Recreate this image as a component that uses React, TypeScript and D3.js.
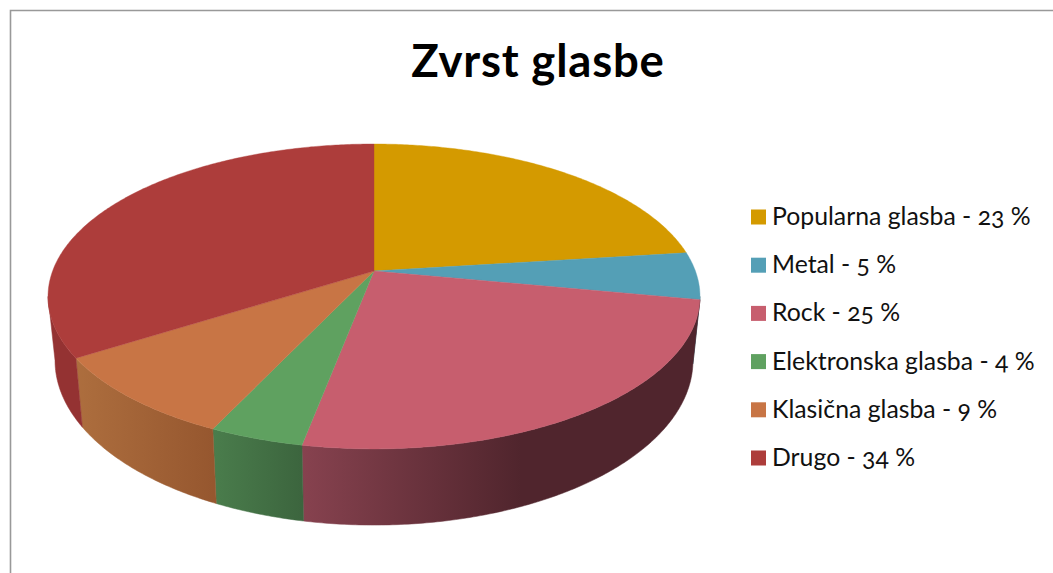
import React from "react";
import * as d3 from "d3";

const categories = ["Popularna glasba", "Metal", "Rock", "Elektronska glasba", "Klasična glasba", "Drugo"];
const shares = [23, 5, 25, 4, 9, 34];
const topColors = ["#d49a00", "#549fb6", "#c75e6e", "#5fa160", "#c87545", "#ad3d3b"];
// left and right colour of the side wall of each slice
const sideLeft = ["#7a5a00", "#33616f", "#87424f", "#4a7d4c", "#ad6e3e", "#943232"];
const sideRight = ["#7a5a00", "#33616f", "#50252d", "#3c653e", "#96572f", "#943232"];
// how far along the wall the right colour is reached
const sideTurn = [1, 1, 0.55, 1, 1, 1];
const title = "Zvrst glasbe";

const WIDTH = 1053;
const HEIGHT = 573;

// perspective of the tilted disc
const cx = 374;
const persp = 0.167;
const topDisc = { y0: 271, a: 321.4, b: 148.2 };
const bottomDisc = { y0: 333, a: 314.5, b: 160 };
// the walls are only seen between these two angles (where the disc outline turns)
const wallStart = Math.PI - Math.acos(persp);
const wallEnd = Math.PI + Math.acos(persp);

const project = (disc: typeof topDisc, angle: number): [number, number] => {
  const u = Math.sin(angle);
  const v = -Math.cos(angle);
  const w = 1 - persp * v;
  return [cx + (disc.a * u) / w, disc.y0 + (disc.b * v) / w];
};

const arcSteps = (start: number, end: number) => {
  const n = Math.max(2, Math.ceil((end - start) / 0.01));
  return d3.range(n + 1).map((i) => start + ((end - start) * i) / n);
};

const line = d3.line().curve(d3.curveLinear);

export default function App() {
  const slices = d3.pie<number>().sort(null)(shares);
  const legendY = d3.scalePoint<string>().domain(categories).range([217, 458]);

  return (
    <svg
      width={WIDTH}
      height={HEIGHT}
      style={{ position: "absolute", left: 0, top: 0, background: "#fff" }}
      fontFamily="Lato, 'Open Sans', sans-serif"
    >
      <defs>
        {slices.map((s, i) => {
          const x0 = project(topDisc, s.startAngle)[0];
          const x1 = project(topDisc, s.endAngle)[0];
          return (
            <linearGradient
              key={i}
              id={"side" + i}
              gradientUnits="userSpaceOnUse"
              x1={Math.min(x0, x1)}
              x2={Math.max(x0, x1)}
              y1={0}
              y2={0}
            >
              <stop offset="0" stopColor={sideLeft[i]} />
              <stop offset={sideTurn[i]} stopColor={sideRight[i]} />
            </linearGradient>
          );
        })}
      </defs>

      <path d="M10.5,573V10.5H1053" fill="none" stroke="#999" strokeWidth={1.6} />

      <text x={538} y={77} textAnchor="middle" fontSize={45.5} fontWeight={700} fill="#000" letterSpacing={0.8}>
        {title}
      </text>

      {/* side walls, only the front part shows */}
      {slices.map((s, i) => {
        const start = Math.max(s.startAngle, wallStart);
        const end = Math.min(s.endAngle, wallEnd);
        if (end <= start) return null;
        const angles = arcSteps(start, end);
        const pts = [
          ...angles.map((a) => project(topDisc, a)),
          ...angles.slice().reverse().map((a) => project(bottomDisc, a)),
        ];
        return <path key={i} d={line(pts) + "Z"} fill={`url(#side${i})`} stroke={`url(#side${i})`} strokeWidth={0.5} />;
      })}

      {/* top face */}
      {slices.map((s, i) => {
        const pts = [[cx, topDisc.y0] as [number, number], ...arcSteps(s.startAngle, s.endAngle).map((a) => project(topDisc, a))];
        return <path key={i} d={line(pts) + "Z"} fill={topColors[i]} stroke={topColors[i]} strokeWidth={0.4} />;
      })}

      {categories.map((c, i) => {
        const y = legendY(c) as number;
        return (
          <g key={c}>
            <rect x={751} y={y - 7.5} width={15} height={15} fill={topColors[i]} />
            <text x={772} y={y + 8} fontSize={24.8} fill="#111" style={{ fontVariantNumeric: "oldstyle-nums" }}>
              {`${c} - ${shares[i]} %`}
            </text>
          </g>
        );
      })}
    </svg>
  );
}
